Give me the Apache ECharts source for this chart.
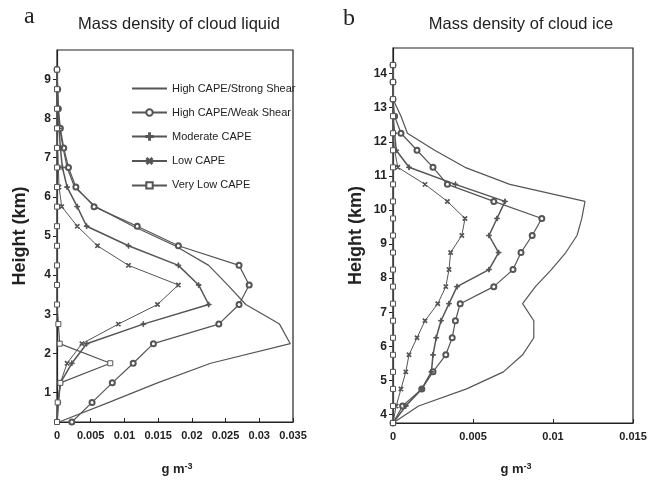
<!DOCTYPE html>
<html><head><meta charset="utf-8">
<script src="https://cdn.jsdelivr.net/npm/echarts@6/dist/echarts.min.js"></script>
<style>html,body{margin:0;padding:0;background:#fff}#c{width:650px;height:501px}</style>
</head><body><div id="c"></div>
<script>
// ---- Data ----
const seriesNames = ['High CAPE/Strong Shear','High CAPE/Weak Shear','Moderate CAPE','Low CAPE','Very Low CAPE'];

// Panel a: cloud liquid (g m-3) at heights (km)
const liquidHeights = [0.25,0.75,1.25,1.75,2.25,2.75,3.25,3.75,4.25,4.75,5.25,5.75,6.25,6.75,7.25,7.75,8.25,8.75,9.25];
const liquidStrong  = [0.0003,0.0077,0.0149,0.0228,0.0346,0.033,0.028,0.0253,0.0225,0.0175,0.0113,0.0057,0.0026,0.0015,0.0009,0.0004,0.0002,0.0001,0];
const liquidWeak    = [0.0022,0.0052,0.0082,0.0113,0.0143,0.024,0.027,0.0285,0.027,0.018,0.0119,0.0055,0.0028,0.0017,0.001,0.0005,0.0002,0.0001,0];
const liquidMod     = [0,0.0002,0.0005,0.0022,0.0044,0.0128,0.0225,0.021,0.018,0.0106,0.0044,0.003,0.0015,0.0008,0.0005,0.0003,0.0001,0,0];
const liquidLow     = [0,0.0002,0.0005,0.0015,0.0037,0.0091,0.0149,0.018,0.0106,0.006,0.003,0.0007,0.0003,0.0002,0.0001,0,0,0,0];
const liquidVeryLow = [0,0.0001,0.0005,0.0079,0.0004,0.0002,0,0,0,0,0,0,0,0,0,0,0,0,0];

// Panel b: cloud ice (g m-3) at heights (km)
const iceHeights = [3.75,4.25,4.75,5.25,5.75,6.25,6.75,7.25,7.75,8.25,8.75,9.25,9.75,10.25,10.75,11.25,11.75,12.25,12.75,13.25,13.75,14.25];
const iceStrong  = [0,0.0016,0.0046,0.0069,0.0081,0.0088,0.0088,0.0081,0.0089,0.0099,0.0108,0.0115,0.0118,0.012,0.0073,0.0045,0.0026,0.0009,0.0005,0,0,0];
const iceWeak    = [0,0.0006,0.0018,0.0025,0.0033,0.0037,0.0039,0.0042,0.0063,0.0075,0.008,0.0087,0.0093,0.0063,0.0034,0.0025,0.0015,0.0005,0.0001,0,0,0];
const iceMod     = [0,0.0008,0.0018,0.0024,0.0025,0.0027,0.003,0.0035,0.004,0.006,0.0066,0.006,0.0065,0.007,0.0039,0.001,0.0002,0.0001,0,0,0,0];
const iceLow     = [0,0.0002,0.0005,0.0008,0.001,0.0015,0.002,0.0028,0.0033,0.0035,0.0036,0.0043,0.0045,0.0034,0.002,0.0003,0.0001,0,0,0,0,0];
const iceVeryLow = [0,0,0,0,0,0,0,0,0,0,0,0,0,0,0,0,0,0,0,0,0,0];

const liquidXTicks = [0,0.005,0.01,0.015,0.02,0.025,0.03,0.035];
const iceXTicks = [0,0.005,0.01,0.015];
const liquidYTicks = [1,2,3,4,5,6,7,8,9];
const iceYTicks = [4,5,6,7,8,9,10,11,12,13,14];

// ---- Styles ----
const LC = '#555';
const SANS = '"Liberation Sans",Arial,sans-serif';
const PLUS = 'path://M0,4.3H10V5.7H0Z M4.3,0H5.7V10H4.3Z';
const THINBAR = 'path://M0,0H0.1V0.1H0Z M0,43H100V57H0Z M0,99.9H0.1V100H0Z';
const styles = [
  {symbol:THINBAR, symbolSize:6, width:1.2, hide:true, noBorder:true},
  {symbol:'emptyCircle', symbolSize:5, width:1.2},
  {symbol:PLUS, symbolSize:5, width:1.5},
  {symbol:PLUS, symbolSize:5, width:1.0, rotate:45},
  {symbol:'rect', symbolSize:5, width:1.2, hollow:true}
];
function pairs(vals, hts){ return vals.map((v,i)=>[v,hts[i]]); }
function mk(idx, vals, hts, axis){
  const s = styles[idx];
  let itemStyle;
  if (s.hollow) itemStyle = {color:'#fff', borderColor:LC, borderWidth:1};
  else if (s.noBorder) itemStyle = {color:LC, borderWidth:0};
  else itemStyle = {color:LC, borderColor:LC, borderWidth:1};
  return {
    name: seriesNames[idx], type:'line', xAxisIndex:axis, yAxisIndex:axis,
    data: pairs(vals, hts), symbol:s.symbol, symbolSize:s.symbolSize,
    symbolRotate: s.rotate||0, showSymbol: !s.hide,
    lineStyle:{color:LC, width:s.width},
    itemStyle: itemStyle,
    emphasis:{disabled:true}, animation:false, z: 3
  };
}

const tickFont = {fontFamily:SANS, fontSize:11, fontWeight:'bold', color:'#222'};

function xAxis(grid, max, ticks){
  return {
    type:'value', gridIndex:grid, min:0, max:max, interval:0.005,
    axisLine:{show:true, lineStyle:{color:'#222', width:1.2}},
    axisTick:{show:true, inside:true, length:4, lineStyle:{color:'#222'}, customValues:ticks},
    axisLabel:Object.assign({margin:8, customValues:ticks, formatter:v=>String(+v.toFixed(3))}, tickFont),
    splitLine:{show:false}
  };
}
function yAxis(grid, min, max, ticks){
  return {
    type:'value', gridIndex:grid, min:min, max:max,
    name:'Height (km)', nameLocation:'middle', nameRotate:90, nameGap:28,
    nameTextStyle:{fontFamily:SANS, fontSize:18, fontWeight:'bold', color:'#222'},
    axisLine:{show:true, lineStyle:{color:'#222', width:1.2}},
    axisTick:{show:true, inside:false, length:4, lineStyle:{color:'#222'}, customValues:ticks},
    axisLabel:Object.assign({margin:6, customValues:ticks, fontSize:12}, {fontFamily:SANS, fontWeight:'bold', color:'#222'}),
    splitLine:{show:false}
  };
}
const supRich = {
  a:{fontFamily:SANS, fontSize:13, fontWeight:'bold', color:'#222'},
  s:{fontFamily:SANS, fontSize:9, fontWeight:'bold', color:'#222', verticalAlign:'top', padding:[0,0,6,0]}
};

const option = {
  backgroundColor:'#fff',
  animation:false,
  title:[
    {text:'a', left:19, top:0, textStyle:{fontFamily:'"Liberation Serif","DejaVu Serif",serif', fontSize:24, fontWeight:'normal', color:'#222'}},
    {text:'b', left:338, top:2, textStyle:{fontFamily:'"Liberation Serif","DejaVu Serif",serif', fontSize:24, fontWeight:'normal', color:'#222'}},
    {text:'Mass density of cloud liquid', left:174, top:11, textAlign:'center', textStyle:{fontFamily:SANS, fontSize:16.5, fontWeight:'normal', color:'#222'}},
    {text:'Mass density of cloud ice', left:516, top:11, textAlign:'center', textStyle:{fontFamily:SANS, fontSize:16.5, fontWeight:'normal', color:'#222'}},
    {text:'{a|g m}{s|-3}', left:172, top:457, textAlign:'center', textStyle:{rich:supRich}},
    {text:'{a|g m}{s|-3}', left:511, top:457, textAlign:'center', textStyle:{rich:supRich}}
  ],
  legend:{
    show:true, orient:'vertical', left:126, top:78, itemGap:13, itemWidth:35, itemHeight:8,
    data:seriesNames, selectedMode:false,
    textStyle:{fontFamily:SANS, fontSize:11, color:'#222'}
  },
  grid:[
    {left:57, top:50, width:236, height:372, show:true, borderColor:'#222', borderWidth:1.2, backgroundColor:'transparent', containLabel:false},
    {left:393, top:48, width:240, height:375, show:true, borderColor:'#222', borderWidth:1.2, backgroundColor:'transparent', containLabel:false}
  ],
  xAxis:[ xAxis(0, 0.035, liquidXTicks), xAxis(1, 0.015, iceXTicks) ],
  yAxis:[ yAxis(0, 0.25, 9.75, liquidYTicks), yAxis(1, 3.75, 14.75, iceYTicks) ],
  series:[
    mk(0, liquidStrong, liquidHeights, 0),
    mk(1, liquidWeak, liquidHeights, 0),
    mk(2, liquidMod, liquidHeights, 0),
    mk(3, liquidLow, liquidHeights, 0),
    mk(4, liquidVeryLow, liquidHeights, 0),
    mk(0, iceStrong, iceHeights, 1),
    mk(1, iceWeak, iceHeights, 1),
    mk(2, iceMod, iceHeights, 1),
    mk(3, iceLow, iceHeights, 1),
    mk(4, iceVeryLow, iceHeights, 1)
  ]
};
const chart = echarts.init(document.getElementById('c'), null, {renderer:'canvas'});
chart.setOption(option);
</script>
</body></html>
